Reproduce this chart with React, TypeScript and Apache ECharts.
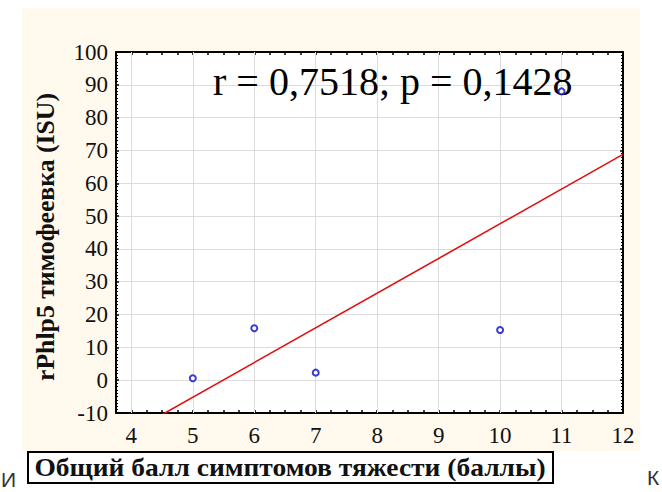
import React, { useEffect, useRef } from "react";
import * as echarts from "echarts";

// ---- data ----
const xTickValues = [4, 5, 6, 7, 8, 9, 10, 11, 12];
const symptomScore = [5, 6, 7, 10, 11];
const rphlp5Isu = [0.6, 15.8, 2.3, 15.3, 88.0];
const statText = "r = 0,7518; p = 0,1428";
const xTitle = "Общий балл симптомов тяжести (баллы)";
const yTitle = "rPhlp5 тимофеевка (ISU)";
const X_MIN = 3.75;
const X_MAX = 12;
const Y_MIN = -10;
const Y_MAX = 100;

// least-squares fit of the points (the red regression line)
function fit(xs: number[], ys: number[]) {
  const n = xs.length;
  const mx = xs.reduce((a, b) => a + b, 0) / n;
  const my = ys.reduce((a, b) => a + b, 0) / n;
  let sxy = 0, sxx = 0;
  for (let i = 0; i < n; i++) {
    sxy += (xs[i] - mx) * (ys[i] - my);
    sxx += (xs[i] - mx) * (xs[i] - mx);
  }
  const b = sxy / sxx;
  return { a: my - b * mx, b };
}

const SERIF = "Liberation Serif";

export default function App() {
  const ref = useRef<HTMLDivElement>(null);
  useEffect(() => {
    if (!ref.current) return;
    const chart = echarts.init(ref.current, undefined, { renderer: "svg" });
    const { a, b } = fit(symptomScore, rphlp5Isu);
    const lineData = [
      [X_MIN, a + b * X_MIN],
      [X_MAX, a + b * X_MAX],
    ];
    const isInt = (v: number) => Math.abs(v - Math.round(v)) < 1e-6;
    const rich = {
      t: { fontFamily: SERIF, fontSize: 23, fontWeight: "normal" as const, color: "#111" },
    };
    const xAxisBase = {
      type: "value" as const,
      min: X_MIN,
      max: X_MAX,
      interval: 0.25,
      axisLine: { show: true, onZero: false, lineStyle: { color: "#000", width: 2 } },
      axisTick: { show: true, inside: true, length: 3, lineStyle: { color: "#000", width: 1.5 } },
      splitLine: { show: false },
    };
    const yAxisBase = {
      type: "value" as const,
      min: Y_MIN,
      max: Y_MAX,
      interval: 10,
      axisLine: { show: true, onZero: false, lineStyle: { color: "#000", width: 2 } },
      axisTick: { show: true, inside: true, length: 3, lineStyle: { color: "#000", width: 1.5 } },
      minorTick: { show: true, splitNumber: 10, length: 2, lineStyle: { color: "#000", width: 1.2 } },
    };
    chart.setOption({
      animation: false,
      backgroundColor: "#ffffff",
      textStyle: { fontFamily: SERIF },
      grid: {
        left: 116,
        right: 39,
        top: 52,
        bottom: 79,
        show: true,
        backgroundColor: "#ffffff",
        borderWidth: 0,
      },
      xAxis: [
        {
          ...xAxisBase,
          position: "bottom",
          axisLabel: {
            show: true,
            margin: 11,
            fontFamily: SERIF,
            fontSize: 23,
            color: "#111",
            rich,
            formatter: (v: number) => (isInt(v) ? `{t|${Math.round(v)}}` : ""),
          },
        },
        { ...xAxisBase, position: "top", axisLabel: { show: false } },
      ],
      yAxis: [
        {
          ...yAxisBase,
          position: "left",
          axisLabel: {
            show: true,
            margin: 8,
            fontFamily: SERIF,
            fontSize: 23,
            color: "#111",
            rich,
            formatter: (v: number) => `{t|${Math.round(v)}}`,
          },
          splitLine: { show: true, lineStyle: { color: "#dcdcdc", width: 1 } },
        },
        { ...yAxisBase, position: "right", axisLabel: { show: false }, splitLine: { show: false } },
      ],
      series: [
        {
          type: "line",
          data: [],
          z: 1,
          markLine: {
            silent: true,
            symbol: ["none", "none"],
            label: { show: false },
            lineStyle: { color: "#dcdcdc", type: "solid", width: 1 },
            data: xTickValues
              .filter((v) => v > X_MIN && v < X_MAX)
              .map((v) => [{ coord: [v, Y_MIN] }, { coord: [v, Y_MAX] }]),
          },
        },
        {
          type: "line",
          data: lineData,
          showSymbol: false,
          symbol: "none",
          clip: true,
          z: 10,
          lineStyle: { color: "#dd1111", width: 1.6 },
        },
        {
          type: "scatter",
          data: symptomScore.map((x, i) => [x, rphlp5Isu[i]]),
          symbol: "circle",
          symbolSize: 6,
          z: 20,
          itemStyle: { color: "#ffffff", borderColor: "#0a0ac8", borderWidth: 2 },
        },
      ],
      graphic: [
        {
          type: "rect",
          z: -100,
          shape: { x: 22, y: 8, width: 618, height: 443 },
          style: { fill: "#fff9ee" },
        },
        {
          type: "text",
          z: 8,
          x: 213,
          y: 81,
          style: {
            text: statText,
            font: `40px ${SERIF}`,
            fill: "#000",
            textAlign: "left",
            textVerticalAlign: "middle",
          },
        },
        {
          type: "text",
          z: 100,
          x: 45,
          y: 237,
          rotation: Math.PI / 2,
          scaleX: 1.03,
          style: {
            text: yTitle,
            font: `bold 25px ${SERIF}`,
            fill: "#111",
            textAlign: "center",
            textVerticalAlign: "middle",
          },
        },
        {
          type: "rect",
          z: 100,
          shape: { x: 28, y: 452, width: 525, height: 31 },
          style: { fill: "#ffffff", stroke: "#000", lineWidth: 2 },
        },
        {
          type: "text",
          z: 101,
          x: 290,
          y: 468,
          scaleX: 1.1,
          style: {
            text: xTitle,
            font: `bold 25px ${SERIF}`,
            fill: "#111",
            textAlign: "center",
            textVerticalAlign: "middle",
          },
        },
        {
          type: "text",
          z: 100,
          x: 1,
          y: 469,
          style: { text: "И", font: "21px Liberation Sans", fill: "#333" },
        },
        {
          type: "text",
          z: 100,
          x: 647,
          y: 467,
          style: { text: "К", font: "21px Liberation Sans", fill: "#333" },
        },
      ],
    });
    return () => chart.dispose();
  }, []);
  return (
    <div
      ref={ref}
      style={{ position: "fixed", left: 0, top: 0, width: 662, height: 492 }}
    />
  );
}
